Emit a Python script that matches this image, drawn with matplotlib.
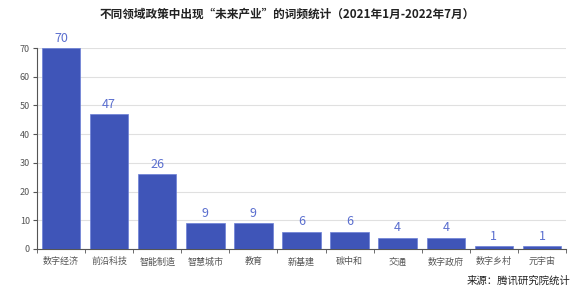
import numpy as np
import matplotlib
matplotlib.use('Agg')
import matplotlib.pyplot as plt
from matplotlib.ticker import FixedLocator

plt.rcParams['font.family'] = ['Noto Sans CJK SC', 'DejaVu Sans']

# data
categories = ['数字经济', '前沿科技', '智能制造', '智慧城市', '教育', '新基建',
              '碳中和', '交通', '数字政府', '数字乡村', '元宇宙']
counts = [70, 47, 26, 9, 9, 6, 6, 4, 4, 1, 1]
yticks = [0, 10, 20, 30, 40, 50, 60, 70]

fig = plt.figure(figsize=(5.77, 2.95), dpi=100)
ax = fig.add_axes([0.064, 0.156, 0.917, 0.681])

x = np.arange(len(categories))
bars = ax.bar(x, counts, width=0.8, color='#3f55b8', edgecolor='#6b7fd6', linewidth=0.5, zorder=3)
for xi, v in zip(x, counts):
    ax.text(xi, v + 1.2, str(v), ha='center', va='bottom', fontsize=9, color='#5b6fcf')

ax.set_xlim(-0.5, len(categories) - 0.5)
ax.set_ylim(0, 70)
ax.set_yticks(yticks)
ax.set_xticks(x)
ax.set_xticklabels(categories)
ax.xaxis.set_minor_locator(FixedLocator(np.arange(-0.5, len(categories), 1)))
ax.tick_params(axis='x', which='major', length=0, labelsize=6.5, labelcolor='#555555', pad=6)
ax.tick_params(axis='x', which='minor', length=3, color='#555555')
ax.tick_params(axis='y', length=3, labelsize=6.5, labelcolor='#555555', color='#555555', pad=2)
ax.grid(axis='y', color='#e0e0e0', linewidth=0.8, zorder=0)

for s in ['top', 'right']:
    ax.spines[s].set_visible(False)
ax.spines['left'].set_color('#555555')
ax.spines['bottom'].set_color('#555555')

fig.text(0.497, 0.953, '不同领域政策中出现“未来产业”的词频统计（2021年1月-2022年7月）',
         ha='center', va='center', fontsize=8.4, fontweight='bold', color='#222222')
fig.text(0.988, 0.05, '来源：腾讯研究院统计', ha='right', va='center', fontsize=7.5, color='#222222')

fig.savefig('out.png', dpi=100)
